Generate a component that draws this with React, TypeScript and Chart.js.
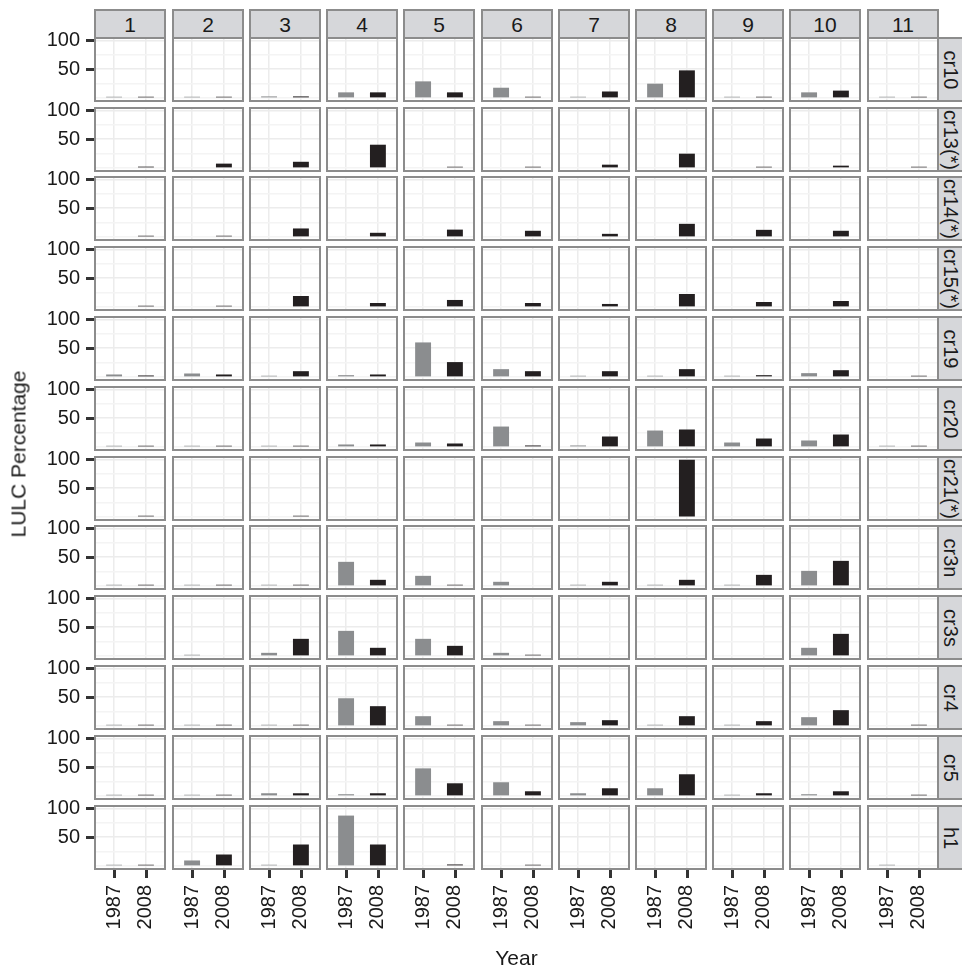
import React, { useEffect, useRef } from 'react';
import { Chart, registerables } from 'chart.js';

Chart.register(...registerables);

// ---------- data ----------
const columns = ['1', '2', '3', '4', '5', '6', '7', '8', '9', '10', '11'];
const regions = ['cr10', 'cr13(*)', 'cr14(*)', 'cr15(*)', 'cr19', 'cr20', 'cr21(*)', 'cr3n', 'cr3s', 'cr4', 'cr5', 'h1'];
const years = ['1987', '2008'];
const yMajorTicks = [50, 100];
const yMinorTicks = [0, 25, 75];

// LULC percentage in 1987, one row per region (columns 1..11); null = no bar
const pct1987: (number | null)[][] = [
  [1.5, 1.5, 3, 10, 29, 18, 1.5, 25, 1.5, 10, 0.5], // cr10
  [null, null, null, null, null, null, null, null, null, null, null], // cr13(*)
  [null, null, null, null, null, null, null, null, null, null, null], // cr14(*)
  [null, null, null, null, null, null, null, null, null, null, null], // cr15(*)
  [4.6, 6.3, 1.7, 3.4, 60, 13.8, 1.7, 1.7, 1, 6.9, null], // cr19
  [1.2, 1.2, 1.2, 4.6, 8, 35.6, 2.9, 28.7, 8, 11.5, 1.2], // cr20
  [null, null, null, null, null, null, null, null, null, null, null], // cr21(*)
  [1.2, 1.2, 1.2, 42, 17.8, 7.5, 1.2, 1.2, 1.2, 26.4, null], // cr3n
  [null, 1, 5.7, 43.7, 29.9, 5.7, null, null, null, 14.4, null], // cr3s
  [1, 1, 2.3, 48.2, 17.2, 8.6, 6.9, 2.3, 1.7, 15.5, null], // cr4
  [1.5, 1.5, 5, 3.3, 48, 24, 5, 13.6, 1.5, 3.3, null], // cr5
  [1.2, 9.8, 1.2, 87.4, null, null, null, null, null, null, 1.2], // h1
];

// LULC percentage in 2008, one row per region (columns 1..11); null = no bar
const pct2008: (number | null)[][] = [
  [1.5, 1.5, 3, 10, 10, 1.5, 11.5, 48, 1.8, 13, 0.8], // cr10
  [2.6, 7.8, 11, 40.5, 1.2, 1.2, 6, 25, 1.2, 4.3, 1.2], // cr13(*)
  [1.2, 1.2, 15, 7.5, 13, 11, 5.7, 23, 12.6, 11, null], // cr14(*)
  [1.2, 1.2, 19.3, 7.2, 12.4, 7.2, 5.5, 22.7, 8.9, 10.6, null], // cr15(*)
  [2.9, 4.6, 10.3, 4.6, 26, 10.3, 10.3, 13.8, 3.4, 12, 1.2], // cr19
  [0.8, 1.4, 1.4, 4.6, 6.3, 2.9, 18.4, 30.5, 14.9, 21.8, 1.2], // cr20
  [1.2, null, 1.2, null, null, null, null, 99, null, null, null], // cr21(*)
  [1.2, 1.2, 2.3, 10.9, 1, null, 7.5, 10.9, 19.5, 43.7, null], // cr3n
  [null, null, 29.9, 14.4, 17.8, 1.2, null, null, null, 38.5, null], // cr3s
  [0.5, 1, 2.3, 34.5, 2.3, 0.5, 10.3, 17.2, 8.6, 27.6, 0.5], // cr4
  [1.5, 1.5, 5, 5, 22.2, 8.4, 13.6, 37.8, 5, 8.4, 1.5], // cr5
  [1.2, 20.1, 37.4, 37.4, 2.9, 1.2, null, null, null, null, null], // h1
];

// ---------- styling / layout ----------
const FONT = "'Liberation Sans', Arial, Helvetica, sans-serif";
const TEXT = '#1a1a1a';
const BAR_COLORS = ['#8b8d8f', '#231f20'];
const BORDER = '#8c8c8c';
const STRIP_BG = '#d6d7da';
const TICK_COLOR = '#333333';
const TICK_LEN = 8;
const PW = 70;
const PH = 63;
const colLeft = (c: number) => Math.round(95.3 + c * 77.24);
const rowTop = (r: number) => Math.round(37.7 + r * 69.82);
const YAX = 90;
const XAX = 80;

function makeFramePlugin(first: boolean, last: boolean) {
  return {
    id: 'panelFrame',
    afterDraw(chart: any) {
      const { ctx, chartArea: a, scales } = chart;
      ctx.save();
      // panel border
      ctx.strokeStyle = BORDER;
      ctx.lineWidth = 2;
      ctx.strokeRect(a.left, a.top, a.right - a.left, a.bottom - a.top);
      // tick marks, positioned by the chart's own scales
      ctx.fillStyle = TICK_COLOR;
      if (first) {
        yMajorTicks.forEach((v) => {
          const y = Math.round(scales.y.getPixelForValue(v));
          ctx.fillRect(a.left - TICK_LEN - 1, y - 1, TICK_LEN, 3);
        });
      }
      if (last) {
        years.forEach((_, i) => {
          const x = Math.round(scales.x.getPixelForValue(i + 1));
          ctx.fillRect(x - 1, a.bottom + 1, 3, TICK_LEN);
        });
      }
      ctx.restore();
    },
  };
}

function Panel({ row, col }: { row: number; col: number }) {
  const ref = useRef<HTMLCanvasElement | null>(null);
  const first = col === 0;
  const last = row === regions.length - 1;
  const mL = first ? YAX : 2;
  const mT = first ? 14 : 2;
  const mR = 2;
  const mB = last ? XAX : 2;
  const w = PW + mL + mR;
  const h = PH + mT + mB;

  useEffect(() => {
    if (!ref.current) return;
    const zeroPad = (s: any) => {
      s.paddingLeft = 0;
      s.paddingRight = 0;
      s.paddingTop = 0;
      s.paddingBottom = 0;
    };
    const chart = new Chart(ref.current, {
      type: 'bar',
      data: {
        datasets: [
          {
            data: years.map((_, i) => ({ x: i + 1, y: i === 0 ? pct1987[row][col] : pct2008[row][col] })),
            backgroundColor: BAR_COLORS,
            borderWidth: 0,
            barPercentage: 0.5,
            categoryPercentage: 1,
            minBarLength: 1.4,
          },
        ],
      },
      options: {
        animation: false,
        responsive: false,
        devicePixelRatio: 1,
        events: [],
        layout: { padding: { left: first ? 0 : 2, right: mR, top: mT, bottom: last ? 0 : 2 } },
        plugins: { legend: { display: false }, tooltip: { enabled: false }, title: { display: false } },
        scales: {
          x: {
            type: 'linear',
            min: 0.4,
            max: 2.6,
            offset: false,
            afterBuildTicks: (s: any) => {
              s.ticks = years.map((_, i) => ({ value: i + 1 }));
            },
            afterFit: (s: any) => {
              s.height = last ? XAX : 0;
              zeroPad(s);
            },
            grid: {
              offset: false,
              color: '#ececec',
              lineWidth: 1.5,
              drawTicks: false,
            },
            border: { display: false },
            ticks: {
              display: last,
              autoSkip: false,
              minRotation: 90,
              maxRotation: 90,
              padding: TICK_LEN + 8,
              color: TEXT,
              font: { family: FONT, size: 20 },
              callback: (v: any) => years[Math.round(Number(v)) - 1] ?? '',
            },
          },
          y: {
            type: 'linear',
            min: -4.95,
            max: 103.95,
            afterBuildTicks: (s: any) => {
              s.ticks = [...yMinorTicks, ...yMajorTicks].sort((a, b) => a - b).map((v) => ({ value: v }));
            },
            afterFit: (s: any) => {
              s.width = first ? YAX : 0;
              zeroPad(s);
            },
            grid: {
              color: (ctx: any) => (yMajorTicks.includes(ctx.tick?.value) ? '#ececec' : '#f4f4f4'),
              lineWidth: 1.5,
              drawTicks: false,
            },
            border: { display: false },
            ticks: {
              display: first,
              autoSkip: false,
              padding: TICK_LEN + 7,
              color: TEXT,
              font: { family: FONT, size: 20 },
              callback: (v: any) => (yMajorTicks.includes(Number(v)) ? String(v) : ''),
            },
          },
        },
      } as any,
      plugins: [makeFramePlugin(first, last)],
    });
    return () => chart.destroy();
  }, [row, col]);

  return (
    <div
      style={{
        position: 'absolute',
        left: colLeft(col) - mL,
        top: rowTop(row) - mT,
        width: w,
        height: h,
      }}
    >
      <canvas ref={ref} width={w} height={h} style={{ width: w, height: h, display: 'block' }} />
    </div>
  );
}

export default function App() {
  const text: React.CSSProperties = {
    fontFamily: FONT,
    color: TEXT,
    fontSize: 21,
    lineHeight: 1,
    whiteSpace: 'nowrap',
  };
  const panelsRight = colLeft(columns.length - 1) + PW;
  const panelsBottom = rowTop(regions.length - 1) + PH;
  return (
    <div
      style={{
        position: 'fixed',
        left: 0,
        top: 0,
        width: 962,
        height: 969,
        background: '#ffffff',
        overflow: 'hidden',
      }}
    >
      {/* column strips */}
      {columns.map((c, ci) => (
        <div
          key={'cs' + c}
          style={{
            ...text,
            position: 'absolute',
            boxSizing: 'border-box',
            left: colLeft(ci) - 1,
            top: 9,
            width: PW + 2,
            height: rowTop(0) - 9 + 1,
            background: STRIP_BG,
            border: `2px solid ${BORDER}`,
            display: 'flex',
            alignItems: 'center',
            justifyContent: 'center',
          }}
        >
          <span>{c}</span>
        </div>
      ))}
      {/* row strips */}
      {regions.map((r, ri) => (
        <div
          key={'rs' + r}
          style={{
            ...text,
            fontSize: 20,
            position: 'absolute',
            boxSizing: 'border-box',
            left: panelsRight - 1,
            top: rowTop(ri) - 1,
            width: 30,
            height: PH + 2,
            background: STRIP_BG,
            border: `2px solid ${BORDER}`,
            display: 'flex',
            alignItems: 'center',
            justifyContent: 'flex-start',
          }}
        >
          <div style={{ width: 24, display: 'flex', justifyContent: 'center', alignItems: 'center' }}>
            <span style={{ display: 'inline-block', transform: 'rotate(90deg)' }}>{r}</span>
          </div>
        </div>
      ))}
      {/* panels */}
      {regions.map((r, ri) => columns.map((c, ci) => <Panel key={r + '-' + c} row={ri} col={ci} />))}
      {/* axis titles */}
      <div
        style={{
          ...text,
          position: 'absolute',
          left: 17.5,
          top: (rowTop(0) + panelsBottom) / 2,
          transform: 'translate(-50%, -50%) rotate(-90deg)',
        }}
      >
        LULC Percentage
      </div>
      <div
        style={{
          ...text,
          position: 'absolute',
          left: (colLeft(0) + panelsRight) / 2,
          top: 947,
          transform: 'translateX(-50%)',
        }}
      >
        Year
      </div>
    </div>
  );
}
